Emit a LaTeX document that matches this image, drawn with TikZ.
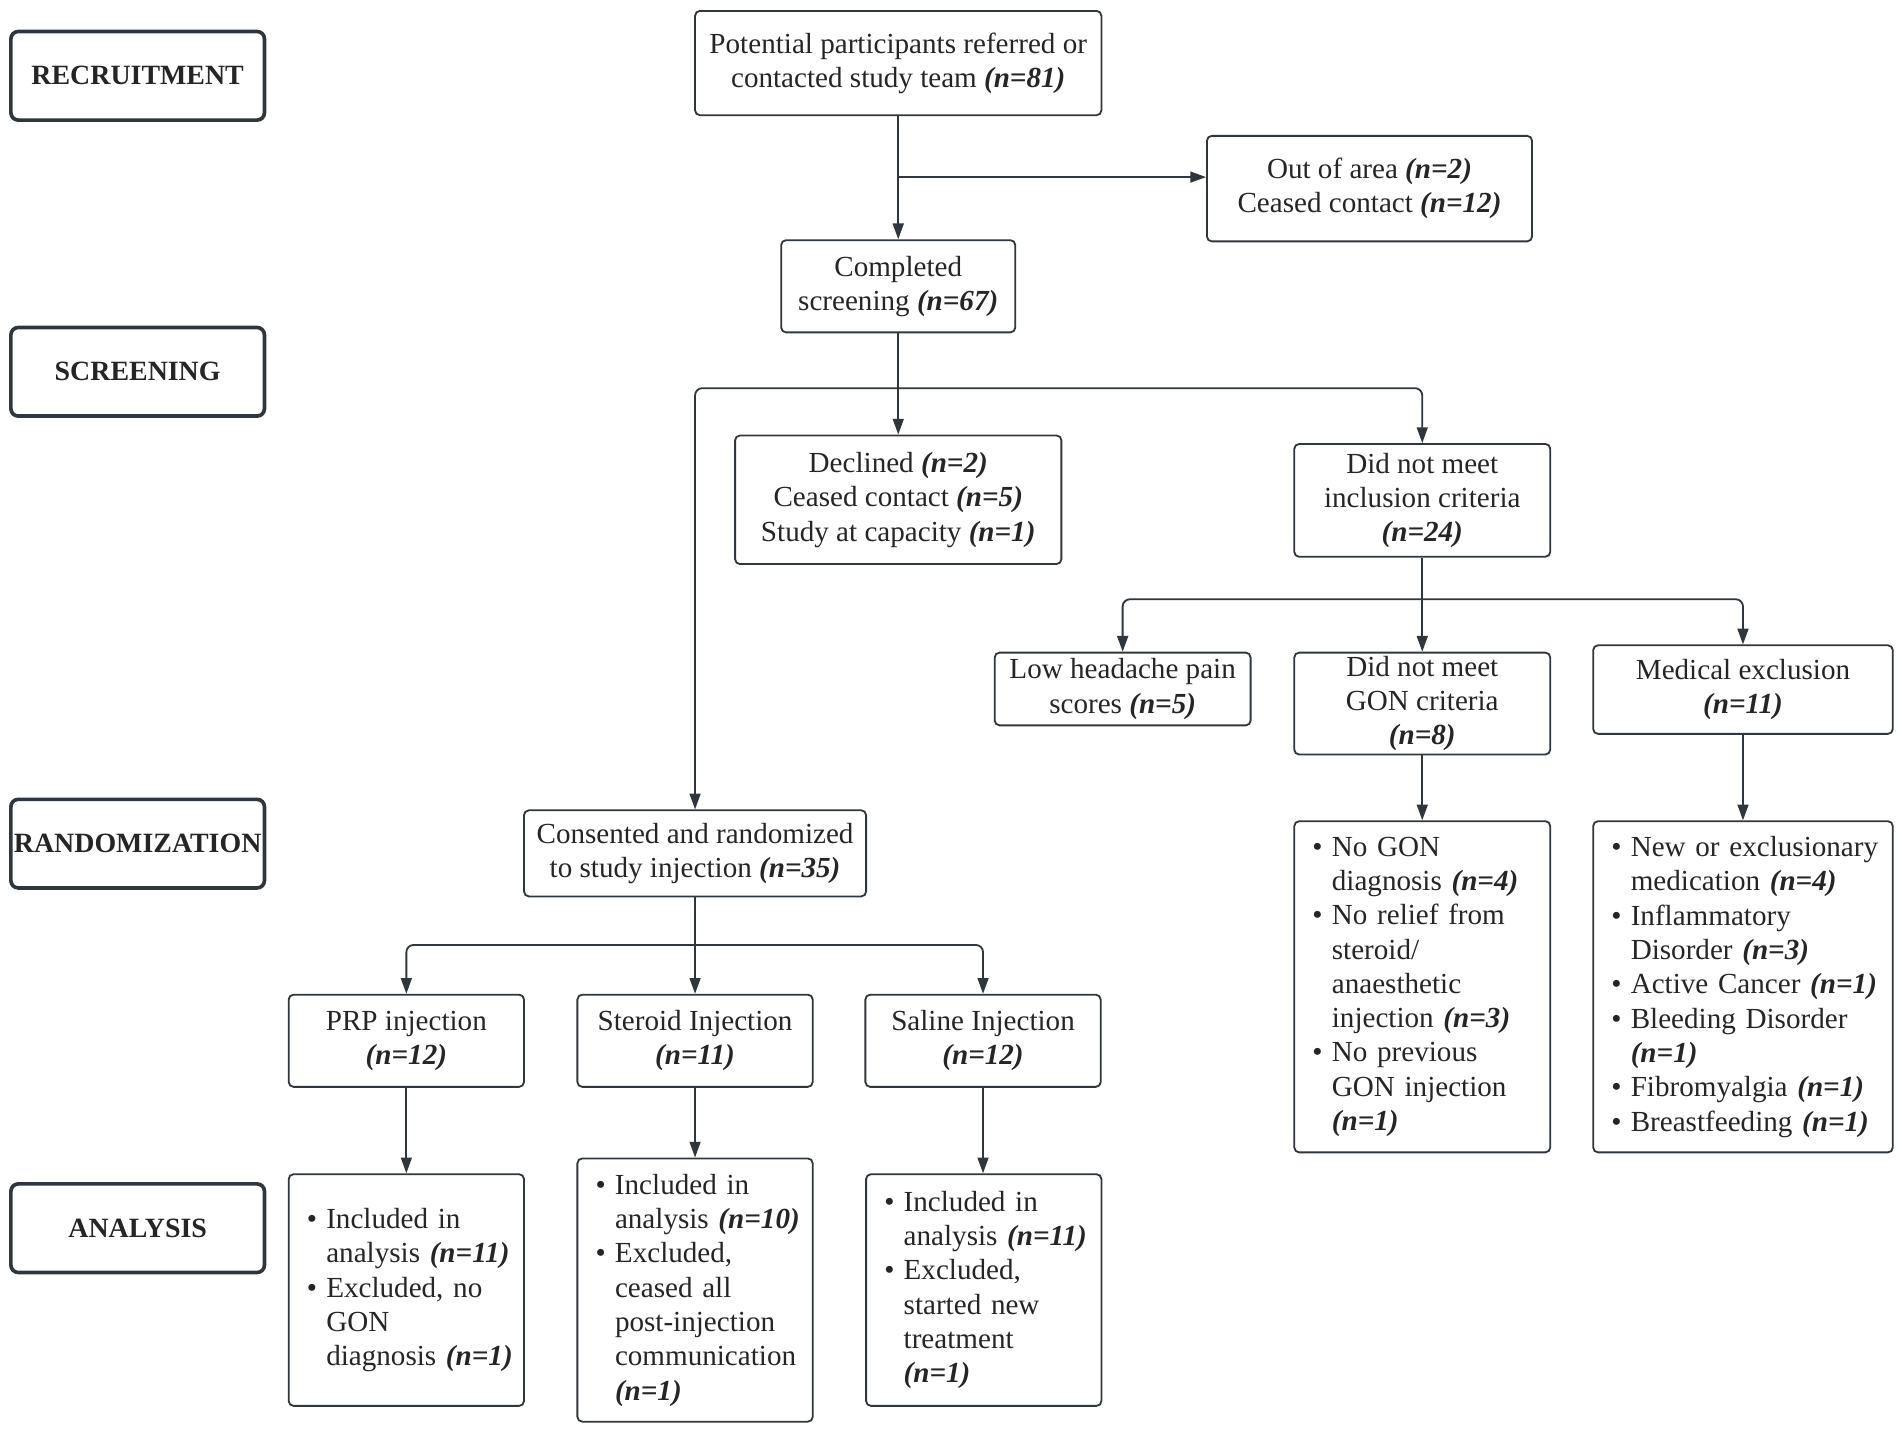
\documentclass[tikz,border=0pt]{standalone}
\usepackage{fontspec}
\setmainfont{Liberation Serif}
\usetikzlibrary{arrows.meta}
\definecolor{lc}{HTML}{30363D}
\definecolor{tc}{HTML}{252525}
\newcommand{\nval}[1]{\textbf{\textit{(n=#1)}}}
\newcommand{\bi}[1]{\mbox{\makebox[16pt][l]{\textbullet}#1}}
\newcommand{\ct}[1]{\mbox{\hspace*{16pt}#1}}
\tikzset{
  x=1pt, y=-1pt,
  box/.style={draw=lc, line width=1.5pt, rounded corners=4pt, inner sep=0pt,
    align=center, text=tc, font=\fontsize{24}{28.3}\selectfont},
  listbox/.style={box, align=left},
  stage/.style={draw=lc, line width=3pt, rounded corners=6pt, inner sep=0pt,
    minimum width=209pt, minimum height=73pt, text=tc,
    font=\fontsize{23}{27}\selectfont\bfseries},
  conn/.style={draw=lc, line width=1.5pt},
  arr/.style={conn, -{Triangle[length=13pt,width=9pt]}},
}
\begin{document}
\begin{tikzpicture}
\useasboundingbox (0,0) rectangle (1568,1180);

% stage labels
\node[stage] (rec) at (113.5,62.5) {RECRUITMENT};
\node[stage] (scr) at (113.5,306.5) {SCREENING};
\node[stage] (ran) at (113.5,695.5) {RANDOMIZATION};
\node[stage] (ana) at (113.5,1012.5) {ANALYSIS};

% main boxes
\node[box, minimum width=335pt, minimum height=86pt] (top) at (740.5,52)
  {Potential participants referred or\\contacted study team \nval{81}};
\node[box, minimum width=268pt, minimum height=87pt] (out) at (1129,155.5)
  {Out of area \nval{2}\\Ceased contact \nval{12}};
\node[box, minimum width=193pt, minimum height=76pt] (comp) at (740.5,236)
  {Completed\\screening \nval{67}};
\node[box, minimum width=269pt, minimum height=106pt] (decl) at (740.5,412)
  {Declined \nval{2}\\Ceased contact \nval{5}\\Study at capacity \nval{1}};
\node[box, minimum width=211pt, minimum height=93pt] (dnm) at (1172.5,412.5)
  {Did not meet\\inclusion criteria\\\nval{24}};
\node[box, minimum width=282pt, minimum height=71pt] (cons) at (573,703.5)
  {Consented and randomized\\to study injection \nval{35}};
\node[box, minimum width=211pt, minimum height=60pt] (low) at (925.5,568)
  {Low headache pain\\scores \nval{5}};
\node[box, minimum width=211pt, minimum height=84pt] (gon) at (1172.5,580)
  {Did not meet\\GON criteria\\\nval{8}};
\node[box, minimum width=247pt, minimum height=73pt] (med) at (1436.9,568.5)
  {Medical exclusion\\\nval{11}};

\node[listbox, minimum width=211pt, minimum height=273pt, text width=181pt] (gonl) at (1172.5,813.5)
  {\bi{No GON}\\\ct{diagnosis \nval{4}}\\\bi{No relief from}\\\ct{steroid/}\\\ct{anaesthetic}\\\ct{injection \nval{3}}\\\bi{No previous}\\\ct{GON injection}\\\ct{\nval{1}}};
\node[listbox, minimum width=247pt, minimum height=273pt, text width=217pt] (medl) at (1436.9,813.5)
  {\bi{New or exclusionary}\\\ct{medication \nval{4}}\\\bi{Inflammatory}\\\ct{Disorder \nval{3}}\\\bi{Active Cancer \nval{1}}\\\bi{Bleeding Disorder}\\\ct{\nval{1}}\\\bi{Fibromyalgia \nval{1}}\\\bi{Breastfeeding \nval{1}}};

\node[box, minimum width=194pt, minimum height=76pt] (prp) at (335,858)
  {PRP injection\\\nval{12}};
\node[box, minimum width=194pt, minimum height=76pt] (ster) at (573,858)
  {Steroid Injection\\\nval{11}};
\node[box, minimum width=194pt, minimum height=76pt] (sal) at (810.4,858)
  {Saline Injection\\\nval{12}};

\node[listbox, minimum width=194pt, minimum height=191pt, text width=164pt] (prpl) at (335,1063.5)
  {\bi{Included in}\\\ct{analysis \nval{11}}\\\bi{Excluded, no}\\\ct{GON}\\\ct{diagnosis \nval{1}}};
\node[listbox, minimum width=194pt, minimum height=217pt, text width=164pt] (sterl) at (573,1063.5)
  {\bi{Included in}\\\ct{analysis \nval{10}}\\\bi{Excluded,}\\\ct{ceased all}\\\ct{post-injection}\\\ct{communication}\\\ct{\nval{1}}};
\node[listbox, minimum width=194pt, minimum height=191pt, text width=164pt] (sall) at (811,1063.5)
  {\bi{Included in}\\\ct{analysis \nval{11}}\\\bi{Excluded,}\\\ct{started new}\\\ct{treatment}\\\ct{\nval{1}}};

% connectors
\coordinate (b1) at (740.5,146);
\coordinate (b2) at (740.5,320);
\coordinate (b3) at (1172.5,494);
\coordinate (b4) at (573,779);

\draw[arr] (top.south) -- (comp.north);
\draw[arr] (b1) -- (b1 -| out.west);

\draw[conn] (comp.south) -- (b2);
\draw[arr] (b2) -- (decl.north);
\draw[arr, rounded corners=6pt] (b2) -| (cons.north);
\draw[arr, rounded corners=6pt] (b2) -| (dnm.north);

\draw[conn] (dnm.south) -- (b3);
\draw[arr] (b3) -- (gon.north);
\draw[arr, rounded corners=6pt] (b3) -| (low.north);
\draw[arr, rounded corners=6pt] (b3) -| (med.north);

\draw[arr] (gon.south) -- (gonl.north);
\draw[arr] (med.south) -- (medl.north);

\draw[conn] (cons.south) -- (b4);
\draw[arr] (b4) -- (ster.north);
\draw[arr, rounded corners=6pt] (b4) -| (prp.north);
\draw[arr, rounded corners=6pt] (b4) -| (sal.north);

\draw[arr] (prp.south) -- (prpl.north);
\draw[arr] (ster.south) -- (sterl.north);
\draw[arr] (sal.south) -- (sal.south |- sall.north);
\end{tikzpicture}
\end{document}
